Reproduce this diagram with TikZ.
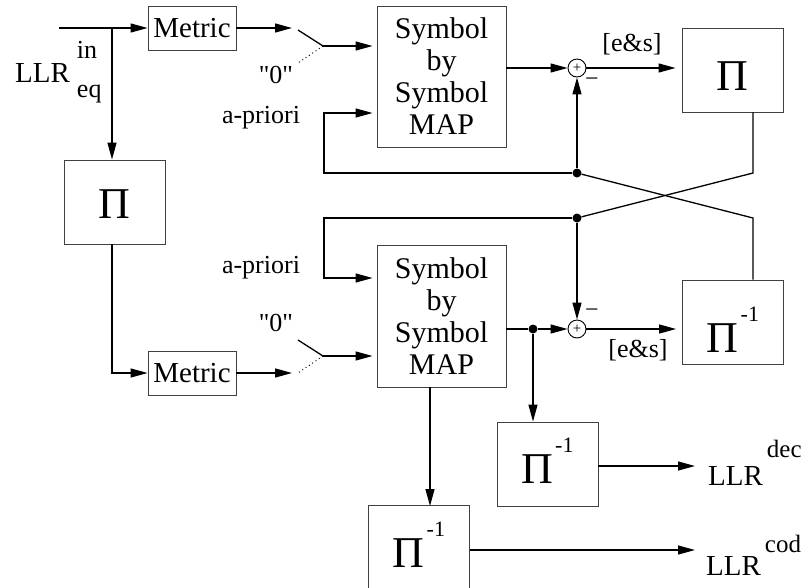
\documentclass[tikz,border=0pt]{standalone}
\usepackage{fontspec}
\setmainfont{Liberation Serif}
\newfontfamily\qfont{Liberation Serif}[Ligatures=TeXOff]
\usetikzlibrary{arrows.meta}

\newcommand{\fsz}[2]{\fontsize{#1}{#2}\selectfont}
\newcommand{\piinv}{Π\hspace{2pt}\raisebox{31pt}{\fsz{22}{22}-1}}

\begin{document}
\begin{tikzpicture}[x=1pt,y=-1pt,
  box/.style={draw=black!75,line width=0.9pt,inner sep=0pt},
  pibox/.style={box,minimum width=101,minimum height=84,text depth=0pt,font=\fsz{44}{44}},
  sig/.style={line width=1.3pt},
  arr/.style={sig,-{Triangle[length=17pt,width=9pt]}},
  dot/.style={circle,fill,inner sep=0pt,minimum size=9pt},
  adder/.style={circle,draw,line width=0.9pt,inner sep=0pt,minimum size=18pt,font=\fsz{15}{15}},
  lbl/.style={inner sep=0pt,font=\fsz{26}{26}}]
  \useasboundingbox (0,0) rectangle (801,587);

  % blocks
  \node[box,minimum width=88,minimum height=44,font=\fsz{29}{29}] (met1) at (192,28) {Metric};
  \node[box,minimum width=88,minimum height=44,font=\fsz{29}{29}] (met2) at (192,373) {Metric};
  \node[box,minimum width=129,minimum height=141,align=center,font=\fsz{30}{32}] (sbs1) at (441.5,76.5) {Symbol\\by\\Symbol\\MAP};
  \node[box,minimum width=129,minimum height=142,align=center,font=\fsz{30}{32}] (sbs2) at (441.5,316) {Symbol\\by\\Symbol\\MAP};
  \node[pibox,text height=32pt] (pi0) at (114.5,202) {Π};
  \node[pibox,text height=40pt] (pi1) at (732.5,70) {Π};
  \node[pibox,text height=60pt] (pi2) at (733,322) {\piinv};
  \node[pibox,text height=38pt] (pi3) at (547.5,464) {\piinv};
  \node[pibox,text height=38pt,minimum height=86] (pi4) at (419,548) {\piinv};
  \node[adder] (add1) at (577,68) {+};
  \node[adder] (add2) at (577,329) {+};

  % labels
  \node[anchor=base west,inner sep=0pt,font=\fsz{29}{29}] (llrin) at (15,82)
    {LLR\hspace{7pt}\rlap{\raisebox{24pt}{\fsz{26}{26}in}}\raisebox{-15pt}{\fsz{26}{26}eq}};
  \node[anchor=base west,inner sep=0pt,font=\fsz{29}{29}] (llrdec) at (708,485)
    {LLR\hspace{4pt}\raisebox{28pt}{\fsz{25}{25}dec}};
  \node[anchor=base west,inner sep=0pt,font=\fsz{29}{29}] (llrcod) at (706,575)
    {LLR\hspace{4pt}\raisebox{23pt}{\fsz{25}{25}cod}};
  \node[lbl,font=\fsz{26}{26}\qfont] (zero1) at (276,75) {"0"};
  \node[lbl,font=\fsz{26}{26}\qfont] (zero2) at (276,323) {"0"};
  \node[lbl,anchor=base] (apr1) at (261,123) {a-priori};
  \node[lbl,anchor=base] (apr2) at (261,273) {a-priori};
  \node[lbl] (es1) at (632,44) {[e\&s]};
  \node[lbl] (es2) at (638,350) {[e\&s]};
  \node[lbl,font=\fsz{24}{24}] (neg1) at (592,82) {−};
  \node[lbl,font=\fsz{24}{24}] (neg2) at (592,313) {−};

  % junctions
  \coordinate (in) at (59,28);
  \coordinate (j0) at (112,28);
  \coordinate (j0b) at (112,373);
  \coordinate (m1e) at (292,28);
  \coordinate (m2e) at (292,373);
  \coordinate (sw1a) at (298,30);
  \coordinate (sw1) at (323,46);
  \coordinate (sw1d) at (298,63);
  \coordinate (sw2a) at (298,340);
  \coordinate (sw2) at (323,356);
  \coordinate (sw2d) at (298,373);
  \coordinate (ap1) at (324,113);
  \coordinate (c1) at (324,173);
  \coordinate (ap2) at (324,278);
  \coordinate (c2) at (324,218);
  \coordinate (k1) at (753,173);
  \coordinate (k2) at (753,218);
  \coordinate (d4) at (430,506);
  \coordinate (out1) at (695,466);
  \coordinate (out2) at (695,550);
  \node[dot] (j1) at (577,173) {};
  \node[dot] (j2) at (577,218) {};
  \node[dot] (j3) at (533,329) {};

  % input side
  \draw[sig] (in) -- (j0);
  \draw[arr] (j0) -- (met1);
  \draw[arr] (j0) -- (j0 |- pi0.north);
  \draw[arr] (j0 |- pi0.south) -- (j0b) -- (met2);
  \draw[arr] (met1) -- (m1e);
  \draw[arr] (met2) -- (m2e);

  % switches
  \draw[sig] (sw1a) -- (sw1);
  \draw[line width=1pt,dash pattern=on 1pt off 3pt] (sw1) -- (sw1d);
  \draw[arr,shorten >=4pt] (sw1) -- (sw1 -| sbs1.west);
  \draw[sig] (sw2a) -- (sw2);
  \draw[line width=1pt,dash pattern=on 1pt off 3pt] (sw2) -- (sw2d);
  \draw[arr,shorten >=4pt] (sw2) -- (sw2 -| sbs2.west);

  % upper decoder
  \draw[arr] (sbs1.east |- add1) -- (add1);
  \draw[arr,shorten >=6pt] (add1) -- (add1 -| pi1.west);
  \draw[arr] (j1) -- (add1);
  \draw[arr,shorten >=4pt] (j1) -- (c1) -- (ap1) -- (ap1 -| sbs1.west);

  % crossing feedback
  \draw[sig] (pi1.south -| k1) -- (k1) -- (j2);
  \draw[sig] (pi2.north -| k2) -- (k2) -- (j1);

  % lower decoder
  \draw[arr,shorten >=4pt] (j2) -- (c2) -- (ap2) -- (ap2 -| sbs2.west);
  \draw[arr] (j2) -- (add2);
  \draw[sig] (sbs2.east |- j3) -- (j3);
  \draw[arr] (j3) -- (add2);
  \draw[arr,shorten >=6pt] (add2) -- (add2 -| pi2.west);
  \draw[arr] (j3) -- (j3 |- pi3.north);
  \draw[arr] (sbs2.south -| d4) -- (d4);

  % outputs
  \draw[arr] (pi3.east |- out1) -- (out1);
  \draw[arr] (pi4.east |- out2) -- (out2);
\end{tikzpicture}
\end{document}
